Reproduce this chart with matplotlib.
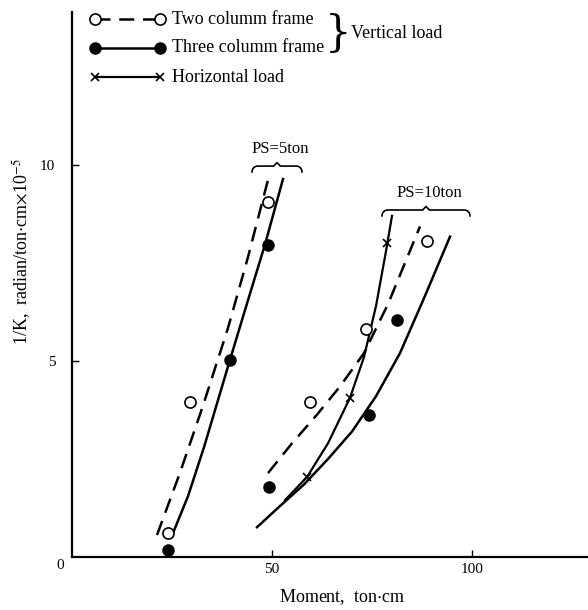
import numpy as np
import matplotlib as mpl
mpl.use('Agg')
import matplotlib.pyplot as plt
from matplotlib.lines import Line2D

mpl.rc('font', family='Liberation Serif', size=11)
mpl.rc('mathtext', fontset='stix')

# measured points
two_x = [24, 29.5, 49, 59.5, 73.5, 88.75]
two_y = [0.61, 3.95, 9.06, 3.95, 5.82, 8.06]
three_x = [24, 39.5, 49, 49.25, 74.25, 81.25]
three_y = [0.18, 5.03, 7.96, 1.79, 3.62, 6.05]
hor_x = [58.75, 69.5, 78.75]
hor_y = [2.04, 4.06, 8.01]

# fitted curves, PS=5ton
two5_x = [21.25, 27, 32.75, 39, 44, 49]
two5_y = [0.56, 2.15, 3.86, 5.84, 7.65, 9.62]
three5_x = [25.25, 29, 33, 39.5, 44, 48.25, 52.75]
three5_y = [0.61, 1.55, 2.8, 5.03, 6.55, 7.97, 9.64]
# fitted curves, PS=10ton
two10_x = [49, 55, 61, 67, 73, 79, 87]
two10_y = [2.14, 2.9, 3.6, 4.35, 5.2, 6.45, 8.43]
three10_x = [46.25, 52, 58, 64, 70, 76, 82, 88, 94.5]
three10_y = [0.76, 1.3, 1.85, 2.5, 3.2, 4.1, 5.2, 6.6, 8.17]
hor10_x = [53.25, 58.75, 64, 69.5, 73, 76, 78.5, 80]
hor10_y = [1.45, 2.04, 2.9, 4.06, 5.1, 6.4, 7.8, 8.7]

xticks = [50, 100]
yticks = [5, 10]
legend_labels = ['Two columm frame', 'Three columm frame', 'Horizontal load']

W, H = 588, 610
fig = plt.figure(figsize=(W / 100, H / 100), dpi=100)
ax = fig.add_axes([72 / W, 53 / H, 516 / W, 545 / H])
ax.set_xlim(0, 129)
ax.set_ylim(0, 13.9)
for s in ['top', 'right']:
    ax.spines[s].set_visible(False)
for s in ['left', 'bottom']:
    ax.spines[s].set_linewidth(1.6)

dash = (0, (6, 3.5))
lw = 1.8
ax.plot(two5_x, two5_y, color='black', lw=lw, linestyle=dash)
ax.plot(three5_x, three5_y, color='black', lw=lw)
ax.plot(two10_x, two10_y, color='black', lw=lw, linestyle=dash)
ax.plot(three10_x, three10_y, color='black', lw=lw)
ax.plot(hor10_x, hor10_y, color='black', lw=1.6)

ax.plot(two_x, two_y, 'o', mfc='white', mec='black', ms=8, mew=1.2, clip_on=False)
ax.plot(three_x, three_y, 'o', mfc='black', mec='black', ms=8, clip_on=False)
ax.plot(hor_x, hor_y, 'x', color='black', ms=6, mew=1.2)

ax.set_xticks(xticks)
ax.set_yticks(yticks)
ax.tick_params(direction='in', length=5, width=1.0)
ax.tick_params(axis='x', pad=4)
ax.tick_params(axis='y', pad=12)
ax.text(-2, -0.05, '0', ha='right', va='top', fontsize=11)


def brace(x0, x1, y, h=0.15, s=1.4):
    xm = (x0 + x1) / 2
    t = np.linspace(0, np.pi / 2, 10)
    px = list(x0 + s * (1 - np.cos(t))) + [xm - s * 0.6, xm, xm + s * 0.6] + \
        list(x1 - s * (1 - np.cos(t[::-1])))
    py = list(y - h + h * np.sin(t)) + [y, y + h * 0.6, y] + list(y - h + h * np.sin(t[::-1]))
    ax.plot(px, py, color='black', lw=1.2, clip_on=False)


brace(45, 57.5, 9.97)
ax.text(52, 10.2, 'PS=5ton', ha='center', va='bottom', fontsize=12)
brace(77.5, 99.5, 8.85)
ax.text(89.25, 9.08, 'PS=10ton', ha='center', va='bottom', fontsize=12)

# legend drawn by hand: marker - line - marker, then text
styles = [
    dict(linestyle=dash, lw=1.8, marker='o', mfc='white', mec='black', ms=8, mew=1.2),
    dict(linestyle='-', lw=1.8, marker='o', mfc='black', mec='black', ms=8),
    dict(linestyle='-', lw=1.6, marker='x', ms=6, mew=1.2),
]
rows_y = [19, 48, 77]
for lab, st, ry in zip(legend_labels, styles, rows_y):
    yy = 1 - ry / H
    fig.add_artist(Line2D([95 / W, 160 / W], [yy, yy], color='black',
                          transform=fig.transFigure, **st))
    fig.text(172 / W, yy, lab, ha='left', va='center', fontsize=13)
fig.text(338 / W, 1 - 34 / H, '}', fontsize=30, ha='center', va='center',
         family='DejaVu Serif', fontweight='light')
fig.text(351 / W, 1 - 34 / H, 'Vertical load', fontsize=13, ha='left', va='center')

fig.text(22 / W, 1 - 252 / H, '1/K,  radian/ton$\\cdot$cm$\\times$10$^{-5}$',
         rotation=90, ha='center', va='center', fontsize=13)
fig.text(342 / W, 1 - 597 / H, 'Moment,  ton$\\cdot$cm', ha='center', va='center', fontsize=13)

fig.savefig('out.png', dpi=100)
